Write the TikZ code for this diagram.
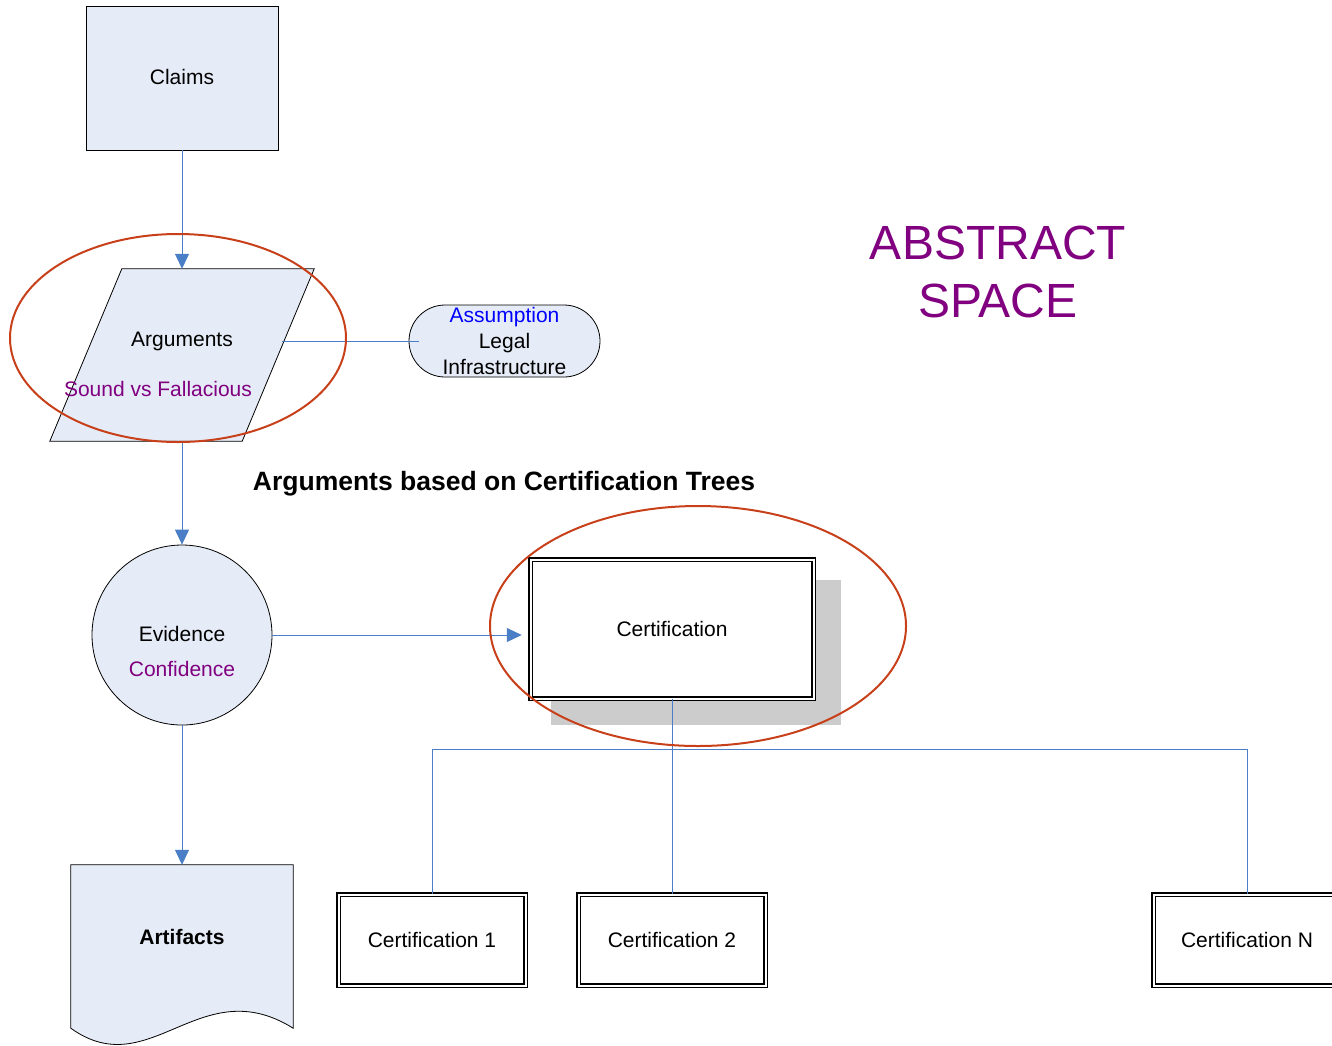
\documentclass[tikz,border=0pt]{standalone}
\usepackage{fontspec}
\setmainfont{Liberation Sans}
\usetikzlibrary{arrows.meta,shapes.geometric,calc}
\definecolor{fillblue}{HTML}{E6ECF7}
\definecolor{lineblue}{HTML}{4A7EC6}
\definecolor{ellred}{HTML}{C8401A}
\definecolor{purp}{HTML}{800080}
\definecolor{shadowgray}{HTML}{CCCCCC}
\tikzset{
  txt/.style={inner sep=0pt, font=\fontsize{21}{26}\selectfont},
  conn/.style={draw=lineblue, line width=1pt},
  arr/.style={conn, -{Triangle[length=15pt,width=14pt]}},
  certbox/.style={draw=black, double=white, double distance=2pt, line width=1.5pt, fill=white, inner sep=0pt,
     font=\fontsize{21}{26}\selectfont},
  redell/.style={draw=ellred, line width=2pt, ellipse, inner sep=0pt},
}
\begin{document}
\begin{tikzpicture}[x=1pt,y=-1pt]
\useasboundingbox (0,0) rectangle (1332,1045);
% Claims
\node[draw=black, line width=0.8pt, fill=fillblue, minimum width=192pt, minimum height=144pt, txt] (claims) at (182,78) {};
\node[txt] (claimstxt) at (182,77) {Claims};
% Arguments parallelogram
\node[minimum width=192pt, minimum height=172pt, inner sep=0pt] (args) at (182,355) {};
\draw[line width=0.8pt, fill=fillblue] ($(args.north west)+(36,0)$) -- ($(args.north east)+(36,0)$) -- ($(args.south east)+(-36,0)$) -- ($(args.south west)+(-36,0)$) -- cycle;
\node[txt] (argtxt) at (182,341) {Arguments};
\node[txt, text=purp] (sound) at (158,389) {Sound vs Fallacious};
\coordinate (argR) at (282,341);
% Assumption pill
\node[draw=black, line width=0.8pt, fill=fillblue, rounded corners=36pt, minimum width=191pt, minimum height=72pt, inner sep=0pt,
  align=center, font=\fontsize{21}{26}\selectfont] (assump) at (504.5,341) {\textcolor{blue}{Assumption}\\Legal\\Infrastructure};
\draw[conn] (argR) -- ($(assump.west)+(10,0)$);
% Evidence circle
\node[circle, draw=black, line width=0.8pt, fill=fillblue, minimum size=180pt, inner sep=0pt] (evid) at (182,635) {};
\node[txt] (evtxt) at (182,634) {Evidence};
\node[txt, text=purp] (conf) at (182,669) {Confidence};
% Artifacts document
\node[minimum width=222pt, minimum height=163pt, inner sep=0pt] (art) at (182,946.5) {};
\draw[line width=0.8pt, fill=fillblue] (art.south west) -- (art.north west) -- (art.north east) -- (art.south east)
   .. controls (200,970) and (150,1085) .. (art.south west) -- cycle;
\node[txt, font=\fontsize{21}{26}\selectfont\bfseries] (arttxt) at (182,937) {Artifacts};
% Title
\node[txt, font=\fontsize{26.5}{30}\selectfont\bfseries] (title) at (504,484) {Arguments based on Certification Trees};
% ABSTRACT SPACE
\node[inner sep=0pt, align=center, text=purp, font=\fontsize{48}{58}\selectfont] (abs) at (998,272) {ABSTRACT\\SPACE};
% Certification
\fill[shadowgray] (551,580) rectangle (841,725);
\node[certbox, minimum width=283pt, minimum height=139pt] (cert) at (672,629) {Certification};
\node[certbox, minimum width=187pt, minimum height=91pt] (c1) at (432,940) {Certification 1};
\node[certbox, minimum width=187pt, minimum height=91pt] (c2) at (672,940) {Certification 2};
\node[certbox, minimum width=187pt, minimum height=91pt] (cN) at (1247,940) {Certification N};
% tree
\coordinate (bus) at (672,749);
\draw[conn] (cert.south) -- (c2.north);
\draw[conn] (bus) -| (c1.north);
\draw[conn] (bus) -| (cN.north);
% arrows
\draw[arr] (claims.south) -- (args.north);
\draw[arr] (args.south) -- (evid.north);
\draw[arr] (evid.south) -- (art.north);
\draw[arr, shorten >=8pt] (evid.east) -- (evid.east -| cert.west);
% red ellipses
\node[redell, minimum width=336pt, minimum height=208pt] (e1) at (178,338) {};
\node[redell, minimum width=416pt, minimum height=240pt] (e2) at (698,626) {};
\end{tikzpicture}
\end{document}
